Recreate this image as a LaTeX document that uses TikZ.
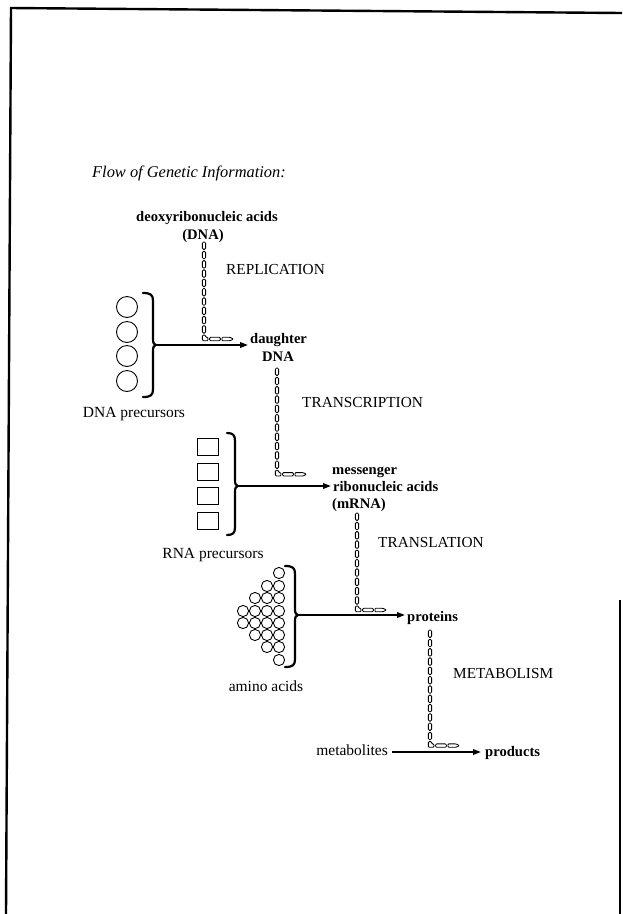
\documentclass[tikz,border=0pt]{standalone}
\usepackage{fontspec}
\setmainfont{Liberation Serif}
\usetikzlibrary{arrows.meta}
\newcommand\gchain[3]{% x, ytop, number of vertical links
  \pgfmathsetmacro\cx{#1}
  \pgfmathsetmacro\cb{#2+#3*9.3}
  \pgfmathsetmacro\ch{\cb+4}
  \foreach \i in {1,...,#3}{
    \draw[chainlink] ({\cx-1.6},{#2+(\i-1)*9.3}) rectangle ++(3.2,7.4);
  }
  \draw[chainlink,rounded corners=1pt] ({\cx-1.6},{\cb}) -- ({\cx-1.6},{\ch+1.7}) -- ({\cx+4},{\ch+1.7}) -- ({\cx+4},{\ch-1.7}) -- ({\cx+1.6},{\ch-1.7}) -- ({\cx+1.6},{\cb}) -- cycle;
  \draw[chainlink] ({\cx+5.5},{\ch-1.7}) rectangle ++(11,3.4);
  \draw[chainlink,rounded corners=0.8pt] ({\cx+18},{\ch-1.7}) -- ++(8,0) -- ++(3.5,1.7) -- ++(-3.5,1.7) -- ++(-8,0) -- cycle;
}
\newcommand\gbrace[6]{% xend, xspine, ytop, ytip, ybot, name of tip
  \draw[bracepath] (#1,#3) .. controls ({#2-2},#3) and (#2,{#3+2}) .. (#2,{#3+8})
    -- (#2,{#4-6}) .. controls (#2,{#4-2}) and ({#2+1},#4) .. ({#2+3},#4)
    .. controls ({#2+1},#4) and (#2,{#4+2}) .. (#2,{#4+6})
    -- (#2,{#5-8}) .. controls (#2,{#5-2}) and ({#2-2},#5) .. (#1,#5);
  \coordinate (#6) at ({#2+3},#4);
}
\begin{document}
\begin{tikzpicture}[x=1pt,y=-1pt,
  lbl/.style={inner sep=0pt, anchor=base, font=\fontsize{15.5}{17}\selectfont},
  blbl/.style={inner sep=0pt, anchor=base, font=\bfseries\fontsize{14.6}{17}\selectfont},
  proc/.style={inner sep=0pt, anchor=base west, font=\fontsize{15.3}{17}\selectfont},
  flow/.style={line width=1.8pt, -{Triangle[length=8pt,width=5.5pt]}},
  bracepath/.style={line width=2.2pt, line cap=round},
  chainlink/.style={line width=0.85pt, fill=white, rounded corners=1.2pt},
  precircle/.style={line width=0.9pt},
  frame/.style={line width=2.4pt}]
\useasboundingbox (0,0) rectangle (622,914);
\fill[white] (0,0) rectangle (622,914);

% frame
\draw[frame] (6,914) -- (11,8) -- (622,13);
\draw[frame] (620,600) -- (620,914);

% title
\node[anchor=base west, inner sep=0pt, font=\itshape\fontsize{16.4}{18}\selectfont] (title) at (92,177) {Flow of Genetic Information:};

% labels
\node[blbl] (dna1) at (207,221) {deoxyribonucleic acids};
\node[blbl] (dna2) at (203,239) {(DNA)};
\node[proc] (rep) at (226,274) {REPLICATION};
\node[blbl,anchor=base west] (dau1) at (250,343) {daughter};
\node[blbl] (dau2) at (278,361) {DNA};
\node[lbl] (dnap) at (134,417) {DNA precursors};
\node[proc] (trs) at (302,407) {TRANSCRIPTION};
\node[blbl,anchor=base west] (m1) at (332,474) {messenger};
\node[blbl,anchor=base west] (m2) at (333,491) {ribonucleic acids};
\node[blbl,anchor=base west] (m3) at (332,508) {(mRNA)};
\node[lbl] (rnap) at (213,558) {RNA precursors};
\node[proc] (trl) at (378,547) {TRANSLATION};
\node[blbl,anchor=base west] (prot) at (407,621) {proteins};
\node[lbl] (amino) at (266,691) {amino acids};
\node[proc] (metab) at (453,678) {METABOLISM};
\node[lbl,anchor=base east] (metl) at (388,755) {metabolites};
\node[blbl,anchor=base west] (prod) at (485,756) {products};

% DNA precursors
\foreach \yy in {307,332,356,381} \draw[precircle] (127,\yy) circle (10.5pt);
\gbrace{143}{153}{293}{345}{397}{t1}
\draw[flow, shorten >=2pt] (t1) -- (t1 -| dau1.west);

% RNA precursors
\foreach \yy in {438,463,487,512} \draw[precircle] (197,\yy) rectangle ++(21,17);
\gbrace{227}{235}{433}{486}{535}{t2}
\draw[flow, shorten >=2pt] (t2) -- (t2 -| m2.west);

% amino acids
\foreach \xx/\yy in {279/573,
  267/586,279/586,
  255/598,267/598,279/598,
  243/611,255/611,267/611,279/611,
  243/623,255/623,267/623,279/623,
  255/635,267/635,279/635,
  267/647,279/647,
  279/660}
  \draw[precircle] (\xx,\yy) circle (5.6pt);
\gbrace{285}{295}{566}{615}{667}{t3}
\draw[flow, shorten >=2pt] (t3) -- (t3 -| prot.west);

% metabolites -> products
\coordinate (ms) at ([xshift=4pt,yshift=3pt]metl.base east);
\draw[flow, shorten >=4pt] (ms) -- (ms -| prod.west);

% chains
\gchain{204}{242}{10}
\gchain{277}{368}{11}
\gchain{357}{513}{10}
\gchain{430}{630}{12}
\end{tikzpicture}
\end{document}
